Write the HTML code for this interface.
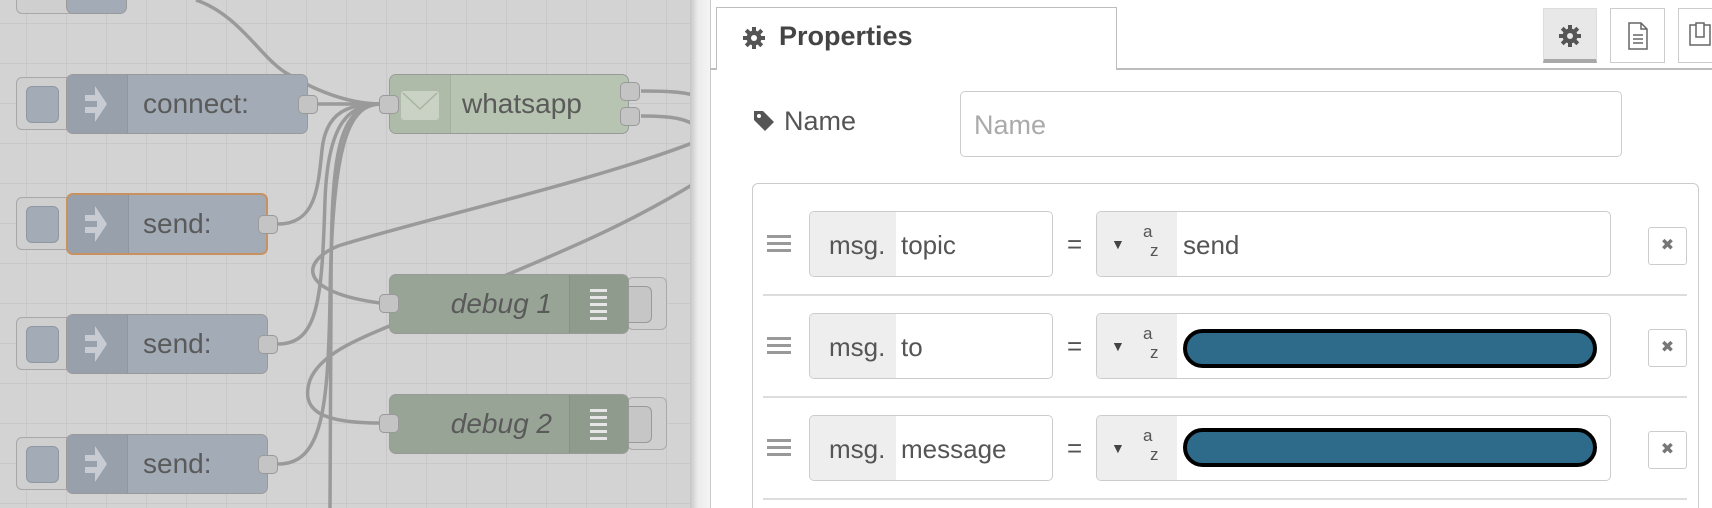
<!DOCTYPE html>
<html><head><meta charset="utf-8"><style>
*{box-sizing:border-box;margin:0;padding:0}
html,body{width:1712px;height:508px;overflow:hidden}
body{position:relative;font-family:"Liberation Sans",sans-serif;background:#fff}
.a{position:absolute}
#canvas{left:0;top:0;width:697px;height:508px;background-color:#d3d3d3;background-image:linear-gradient(to right,#c8c8c8 1px,transparent 1px),linear-gradient(to bottom,#c8c8c8 1px,transparent 1px);background-size:40px 40px;background-position:26px 23px;overflow:hidden}
.btn{border:1.5px solid #a8a8a8;background:#cfcfcf;border-radius:6px}
.btn i{position:absolute;left:9px;top:8px;width:33px;height:37px;border:1.5px solid #8f98a2;background:#a3acb6;border-radius:6px}
.node{border:1.5px solid #9a9a9a;border-radius:7px;overflow:hidden}
.inj{background:#a3acb6}
.inj .ic{position:absolute;left:0;top:0;bottom:0;width:61px;background:#98a1ab;border-right:1px solid #8e97a1}
.lbl{position:absolute;top:0;bottom:0;display:flex;align-items:center;font-size:28px;color:#5a5a5a}
.port{position:absolute;width:20px;height:19px;background:#c4c4c4;border:1.5px solid #9a9a9a;border-radius:5px}
.dbtn{border:1.5px solid #aaa;border-radius:6px;background:#cfcfcf}
.dbtn i{position:absolute;left:-2px;top:8px;width:26px;height:37px;border:1.5px solid #9a9a9a;border-left:none;border-radius:0 6px 6px 0;background:#c6c6c6}
.dbg{background:#98a596}
.dbg .rs{position:absolute;right:0;top:0;bottom:0;width:59px;background:#8f9c8d;border-left:1px solid #869383}
.bars{position:absolute;left:20px;top:14px;width:17px}
.bars b{display:block;height:3px;background:#e6e6e6;margin-bottom:4px}
.fld{border:1.5px solid #ccc;border-radius:5px;background:#fff;overflow:hidden}
.t{font-size:26px;color:#555}
</style></head><body>
<div id="canvas" class="a">
<svg class="a" style="left:0;top:0" width="697" height="508">
<g fill="none" stroke="#9a9a9a" stroke-width="3.5">
<path d="M196 0 C240 15 262 60 288 74 C318 92 350 104 382 104"/>
<path d="M318 104 L382 104"/>
<path d="M278 224 C315 224 318 190 322 150 C326 110 350 104 382 104"/>
<path d="M278 344 C318 344 322 300 325 200 C328 120 350 104 382 104"/>
<path d="M278 464 C322 464 328 410 330 300 C332 130 352 104 382 104"/>
<path d="M382 104 C335 104 331 160 331 300 L330 508"/>
<path d="M641 91 C670 91 690 92 700 98"/>
<path d="M641 116 C670 116 690 118 700 130"/>
<path d="M700 140 C600 180 420 220 338 246 C300 262 298 292 380 303"/>
<path d="M700 180 C620 230 540 260 495 280"/>
<path d="M392 325 C355 340 320 355 310 380 C300 410 320 423 380 423"/>
</g>
</svg>
<div class="a btn" style="left:16px;top:-20px;width:60px;height:34px"></div>
<div class="a node inj" style="left:66px;top:-20px;width:61px;height:34px"></div>

<div class="a btn" style="left:16px;top:77px;width:60px;height:53px"><i></i></div>
<div class="a node inj" style="left:66px;top:74px;width:242px;height:60px"><div class="ic"><svg class="a" style="left:16px;top:6px" width="30" height="46"><path d="M2 14 H12 V5 L24 23 L12 41 V32 H2 V26 H14 V20 H2 Z" fill="#c8ccd2"/></svg></div><div class="lbl" style="left:76px">connect:</div></div>
<div class="port" style="left:298px;top:95px"></div>

<div class="a btn" style="left:16px;top:197px;width:60px;height:53px"><i></i></div>
<div class="a node inj" style="left:66px;top:193px;width:202px;height:62px;border:2.5px solid #c8915f"><div class="ic"><svg class="a" style="left:15px;top:6px" width="30" height="46"><path d="M2 14 H12 V5 L24 23 L12 41 V32 H2 V26 H14 V20 H2 Z" fill="#c8ccd2"/></svg></div><div class="lbl" style="left:75px">send:</div></div>
<div class="port" style="left:258px;top:215px"></div>

<div class="a btn" style="left:16px;top:317px;width:60px;height:53px"><i></i></div>
<div class="a node inj" style="left:66px;top:314px;width:202px;height:60px"><div class="ic"><svg class="a" style="left:16px;top:6px" width="30" height="46"><path d="M2 14 H12 V5 L24 23 L12 41 V32 H2 V26 H14 V20 H2 Z" fill="#c8ccd2"/></svg></div><div class="lbl" style="left:76px">send:</div></div>
<div class="port" style="left:258px;top:335px"></div>

<div class="a btn" style="left:16px;top:437px;width:60px;height:53px"><i></i></div>
<div class="a node inj" style="left:66px;top:434px;width:202px;height:60px"><div class="ic"><svg class="a" style="left:16px;top:6px" width="30" height="46"><path d="M2 14 H12 V5 L24 23 L12 41 V32 H2 V26 H14 V20 H2 Z" fill="#c8ccd2"/></svg></div><div class="lbl" style="left:76px">send:</div></div>
<div class="port" style="left:258px;top:455px"></div>

<div class="a node" style="left:389px;top:74px;width:240px;height:60px;background:#b7c4b1">
<div class="a" style="left:0;top:0;bottom:0;width:61px;background:#aebba8;border-right:1px solid #a3b09d"></div>
<div class="a" style="left:11px;top:16px;width:38px;height:29px;background:#c9d2c5;border-radius:3px;overflow:hidden"><svg width="38" height="29"><path d="M2 2 L19 18 L36 2" fill="none" stroke="#a7b5a1" stroke-width="1.5"/></svg></div>
<div class="lbl" style="left:72px">whatsapp</div></div>
<div class="port" style="left:379px;top:95px"></div>
<div class="port" style="left:620px;top:82px"></div>
<div class="port" style="left:620px;top:107px"></div>

<div class="a dbtn" style="left:627px;top:277px;width:40px;height:53px"><i></i></div>
<div class="a node dbg" style="left:389px;top:274px;width:240px;height:60px"><div class="rs"><div class="bars"><b></b><b></b><b></b><b></b><b></b></div></div><div class="lbl" style="right:76px;font-style:italic">debug 1</div></div>
<div class="port" style="left:379px;top:294px"></div>

<div class="a dbtn" style="left:627px;top:397px;width:40px;height:53px"><i></i></div>
<div class="a node dbg" style="left:389px;top:394px;width:240px;height:60px"><div class="rs"><div class="bars"><b></b><b></b><b></b><b></b><b></b></div></div><div class="lbl" style="right:76px;font-style:italic">debug 2</div></div>
<div class="port" style="left:379px;top:414px"></div>
</div>

<div class="a" style="left:690px;top:0;width:20px;height:508px;background:linear-gradient(to right,#c6c6c6,#ececec 40%,#f4f4f4)"></div>
<div class="a" style="left:710px;top:0;width:1px;height:508px;background:#c8c8c8"></div>
<div class="a" style="left:710px;top:68px;width:1002px;height:2px;background:#bdbdbd"></div>
<div class="a" style="left:716px;top:7px;width:401px;height:63px;border:1.5px solid #bdbdbd;border-bottom:none;background:#fff"></div>
<svg class="a" style="left:742px;top:26px" width="24" height="24" viewBox="0 0 24 24"><g fill="#555"><circle cx="12" cy="12" r="7.5"/><rect x="10" y="1" width="4" height="22"/><rect x="1" y="10" width="22" height="4"/><rect x="10" y="1" width="4" height="22" transform="rotate(45 12 12)"/><rect x="10" y="1" width="4" height="22" transform="rotate(-45 12 12)"/></g><circle cx="12" cy="12" r="3" fill="#fff"/></svg>
<div class="a" style="left:779px;top:21px;font-size:27px;font-weight:bold;color:#444">Properties</div>

<div class="a" style="left:1543px;top:8px;width:54px;height:55px;background:#e8e8e8;border:1px solid #ddd;border-bottom:4px solid #a8a8a8"></div>
<svg class="a" style="left:1558px;top:24px" width="24" height="24" viewBox="0 0 24 24"><g fill="#555"><circle cx="12" cy="12" r="7.5"/><rect x="10" y="1" width="4" height="22"/><rect x="1" y="10" width="22" height="4"/><rect x="10" y="1" width="4" height="22" transform="rotate(45 12 12)"/><rect x="10" y="1" width="4" height="22" transform="rotate(-45 12 12)"/></g><circle cx="12" cy="12" r="3" fill="#e8e8e8"/></svg>
<div class="a" style="left:1610px;top:8px;width:55px;height:55px;border:1.5px solid #ccc;background:#fff"></div>
<svg class="a" style="left:1627px;top:22px" width="22" height="28"><path d="M2 1 H14 L20 7 V27 H2 Z M14 1 V7 H20" fill="none" stroke="#666" stroke-width="1.5"/><path d="M6 13H16M6 17H16M6 21H16" stroke="#666" stroke-width="1.5"/></svg>
<div class="a" style="left:1678px;top:8px;width:40px;height:55px;border:1.5px solid #ccc;background:#fff"></div>
<svg class="a" style="left:1688px;top:22px" width="24" height="28"><rect x="2" y="3" width="20" height="20" fill="none" stroke="#666" stroke-width="1.5"/><rect x="8" y="1" width="8" height="14" fill="#fff" stroke="#666" stroke-width="1.5"/></svg>

<svg class="a" style="left:752px;top:109px" width="24" height="24" viewBox="0 0 24 24"><path d="M2 2 H11 L22 13 L13 22 L2 11 Z" fill="#555"/><circle cx="7" cy="7" r="2" fill="#fff"/></svg>
<div class="a t" style="left:784px;top:106px;font-size:27px">Name</div>
<div class="a fld" style="left:960px;top:91px;width:662px;height:66px"><div class="a" style="left:13px;top:18px;font-size:27px;color:#aaa">Name</div></div>

<div class="a" style="left:752px;top:183px;width:947px;height:340px;border:1.5px solid #ccc;border-radius:6px"></div>
<div class="a" style="left:763px;top:294px;width:924px;height:2px;background:#ddd"></div>
<div class="a" style="left:763px;top:396px;width:924px;height:2px;background:#ddd"></div>
<div class="a" style="left:763px;top:498px;width:924px;height:2px;background:#ddd"></div>

<div class="a" style="left:0;top:211px;width:1712px;height:66px">
<div class="a" style="left:767px;top:24px;width:24px"><div style="height:3px;background:#999;margin-bottom:4px"></div><div style="height:3px;background:#999;margin-bottom:4px"></div><div style="height:3px;background:#999"></div></div>
<div class="a fld" style="left:809px;top:0;width:244px;height:66px"><div class="a" style="left:0;top:0;bottom:0;width:86px;background:#eee"></div><div class="a t" style="left:19px;top:18px">msg.</div><div class="a t" style="left:91px;top:18px">topic</div></div>
<div class="a t" style="left:1067px;top:18px">=</div>
<div class="a fld" style="left:1096px;top:0;width:515px;height:66px"><div class="a" style="left:0;top:0;bottom:0;width:80px;background:#eee"></div><div class="a" style="left:14px;top:24px;font-size:14px;color:#444">▼</div><div class="a" style="left:46px;top:10px;font-size:17px;color:#555">a</div><div class="a" style="left:53px;top:29px;font-size:17px;color:#555">z</div><div class="a t" style="left:86px;top:18px">send</div></div>
<div class="a" style="left:1648px;top:16px;width:39px;height:38px;border:1.5px solid #ccc;border-radius:3px;text-align:center;line-height:35px;font-size:16px;color:#777">✖</div>
</div>
<div class="a" style="left:0;top:313px;width:1712px;height:66px">
<div class="a" style="left:767px;top:24px;width:24px"><div style="height:3px;background:#999;margin-bottom:4px"></div><div style="height:3px;background:#999;margin-bottom:4px"></div><div style="height:3px;background:#999"></div></div>
<div class="a fld" style="left:809px;top:0;width:244px;height:66px"><div class="a" style="left:0;top:0;bottom:0;width:86px;background:#eee"></div><div class="a t" style="left:19px;top:18px">msg.</div><div class="a t" style="left:91px;top:18px">to</div></div>
<div class="a t" style="left:1067px;top:18px">=</div>
<div class="a fld" style="left:1096px;top:0;width:515px;height:66px"><div class="a" style="left:0;top:0;bottom:0;width:80px;background:#eee"></div><div class="a" style="left:14px;top:24px;font-size:14px;color:#444">▼</div><div class="a" style="left:46px;top:10px;font-size:17px;color:#555">a</div><div class="a" style="left:53px;top:29px;font-size:17px;color:#555">z</div><div class="a" style="left:86px;top:15px;width:414px;height:39px;background:#2e6b8a;border:4px solid #000;border-radius:20px"></div></div>
<div class="a" style="left:1648px;top:16px;width:39px;height:38px;border:1.5px solid #ccc;border-radius:3px;text-align:center;line-height:35px;font-size:16px;color:#777">✖</div>
</div>
<div class="a" style="left:0;top:415px;width:1712px;height:66px">
<div class="a" style="left:767px;top:24px;width:24px"><div style="height:3px;background:#999;margin-bottom:4px"></div><div style="height:3px;background:#999;margin-bottom:4px"></div><div style="height:3px;background:#999"></div></div>
<div class="a fld" style="left:809px;top:0;width:244px;height:66px"><div class="a" style="left:0;top:0;bottom:0;width:86px;background:#eee"></div><div class="a t" style="left:19px;top:18px">msg.</div><div class="a t" style="left:91px;top:18px">message</div></div>
<div class="a t" style="left:1067px;top:18px">=</div>
<div class="a fld" style="left:1096px;top:0;width:515px;height:66px"><div class="a" style="left:0;top:0;bottom:0;width:80px;background:#eee"></div><div class="a" style="left:14px;top:24px;font-size:14px;color:#444">▼</div><div class="a" style="left:46px;top:10px;font-size:17px;color:#555">a</div><div class="a" style="left:53px;top:29px;font-size:17px;color:#555">z</div><div class="a" style="left:86px;top:12px;width:414px;height:39px;background:#2e6b8a;border:4px solid #000;border-radius:20px"></div></div>
<div class="a" style="left:1648px;top:16px;width:39px;height:38px;border:1.5px solid #ccc;border-radius:3px;text-align:center;line-height:35px;font-size:16px;color:#777">✖</div>
</div>
</body></html>
